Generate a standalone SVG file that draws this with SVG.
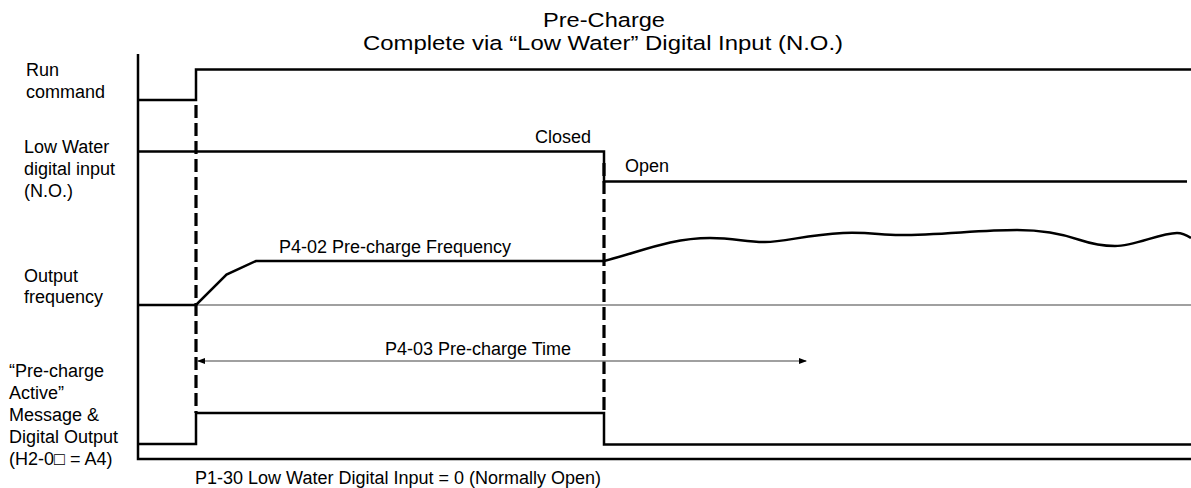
<svg xmlns="http://www.w3.org/2000/svg" width="1191" height="488" viewBox="0 0 1191 488">
  <style>
    text { font-family: "Liberation Sans", Arial, sans-serif; fill: #000; }
    .lbl { font-size: 18px; }
    .ttl { font-size: 20.5px; }
    .sig { fill: none; stroke: #000; stroke-width: 2.5; stroke-linejoin: miter; }
    .gray { fill: none; stroke: #808080; stroke-width: 1.5; }
    .dash { fill: none; stroke: #000; stroke-width: 3.2; stroke-dasharray: 13 5; }
  </style>
  <defs>
    <marker id="ah" viewBox="0 0 8 8" refX="7" refY="4" markerWidth="8" markerHeight="8" markerUnits="userSpaceOnUse" orient="auto-start-reverse">
      <path d="M0,1 L8,4 L0,7 Z" fill="#000"/>
    </marker>
  </defs>
  <rect width="1191" height="488" fill="#fff"/>

  <g id="title">
    <text class="ttl" x="604" y="26.5" text-anchor="middle" textLength="122" lengthAdjust="spacingAndGlyphs">Pre-Charge</text>
    <text class="ttl" x="603" y="49.5" text-anchor="middle" textLength="480" lengthAdjust="spacingAndGlyphs">Complete via “Low Water” Digital Input (N.O.)</text>
  </g>

  <g id="axes">
    <path class="sig" d="M138,54 V459 H1191"/>
  </g>

  <g id="run-command">
    <text class="lbl" x="26" y="76">Run</text>
    <text class="lbl" x="26" y="98">command</text>
    <path class="sig" d="M138,100 H196 V69.5 H1191"/>
  </g>

  <g id="low-water-input">
    <text class="lbl" x="24" y="153">Low Water</text>
    <text class="lbl" x="24" y="175">digital input</text>
    <text class="lbl" x="24" y="197">(N.O.)</text>
    <path class="sig" d="M138,151.5 H604 V181.5 H1187"/>
    <text class="lbl" x="535" y="143">Closed</text>
    <text class="lbl" x="625" y="172">Open</text>
  </g>

  <g id="output-frequency">
    <text class="lbl" x="24" y="282">Output</text>
    <text class="lbl" x="24" y="303">frequency</text>
    <path class="gray" d="M196,305 H1191"/>
    <path class="sig" d="M138,305 H196 L226.5,274.5 L256,261 H604 C640,252 670,238 710,238 C735,238 745,242 765,242 C785,242 805,235 843,233 C870,232 880,235 900,235 C940,235 980,230 1017,230 C1040,230 1060,233 1080,240 C1095,245 1105,246 1115,246 C1135,246 1160,233 1177,233 C1183,233 1188,236 1191,238"/>
    <text class="lbl" x="279" y="253">P4-02 Pre-charge Frequency</text>
  </g>

  <g id="precharge-active">
    <text class="lbl" x="9" y="377">“Pre-charge</text>
    <text class="lbl" x="9" y="399">Active”</text>
    <text class="lbl" x="9" y="421">Message &amp;</text>
    <text class="lbl" x="9" y="443">Digital Output</text>
    <text class="lbl" x="9" y="465">(H2-0□ = A4)</text>
    <path class="sig" d="M138,444 H196 V413 H604 V444.5 H1191"/>
  </g>

  <g id="connectors">
    <path class="dash" d="M196,105 V413"/>
    <path class="dash" d="M604,163 V413"/>
    <path d="M198,361 H806" stroke="#808080" stroke-width="1.4" fill="none" marker-start="url(#ah)" marker-end="url(#ah)"/>
    <text class="lbl" x="385" y="355">P4-03 Pre-charge Time</text>
  </g>

  <g id="footnote">
    <text class="lbl" x="195" y="484">P1-30 Low Water Digital Input = 0 (Normally Open)</text>
  </g>
</svg>
